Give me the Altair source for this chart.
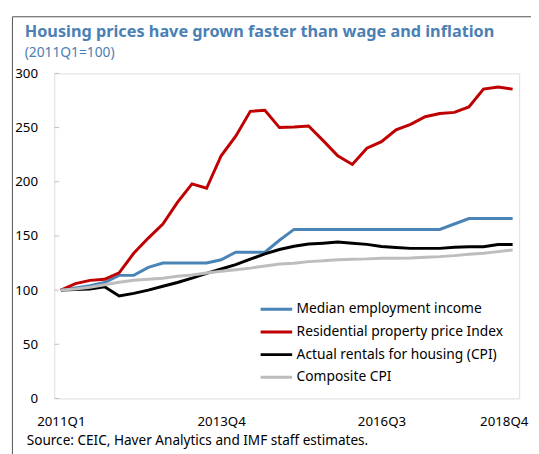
import json
import altair as alt
import pandas as pd

quarters = [
    "2011Q1", "2011Q2", "2011Q3", "2011Q4", "2012Q1", "2012Q2", "2012Q3", "2012Q4",
    "2013Q1", "2013Q2", "2013Q3", "2013Q4", "2014Q1", "2014Q2", "2014Q3", "2014Q4",
    "2015Q1", "2015Q2", "2015Q3", "2015Q4", "2016Q1", "2016Q2", "2016Q3", "2016Q4",
    "2017Q1", "2017Q2", "2017Q3", "2017Q4", "2018Q1", "2018Q2", "2018Q3", "2018Q4",
]

series_names = [
    "Median employment income",
    "Residential property price Index",
    "Actual rentals for housing (CPI)",
    "Composite CPI",
]

income = [100, 102, 104, 107, 113.6, 113.6, 121, 125, 125, 125, 125, 128, 135, 135, 135, 146,
          156, 156, 156, 156, 156, 156, 156, 156, 156, 156, 156, 161, 166, 166, 166, 166]
property_price = [100, 106, 109, 110, 116, 134, 148, 161, 181, 198, 194, 224, 242, 265, 266, 250,
                  250.5, 251.5, 238, 224, 216, 231, 237, 248, 253, 260, 263, 264, 269, 285.5, 287.5, 285.5]
rentals = [100, 100.5, 101, 103, 94.5, 97, 100, 103.5, 107, 111, 115.5, 119.5, 123.5, 128.5, 133.5, 137.5,
           140.5, 142.5, 143.3, 144.3, 143.3, 142.2, 140.3, 139.3, 138.5, 138.5, 138.5, 139.5, 140, 140, 142, 142]
cpi = [100, 101, 102.7, 104.9, 107.3, 109, 110, 111, 112.7, 114, 115.8, 117.4, 118.8, 120.3, 122.3, 124,
       124.7, 126.3, 127, 128, 128.5, 128.8, 129.4, 129.4, 129.6, 130.3, 130.9, 131.8, 133, 134, 135.5, 137]

series_colors = ["#4a84b6", "#c00000", "#000000", "#bdbdbd"]
x_tick_labels = ["2011Q1", "2013Q4", "2016Q3", "2018Q4"]
y_ticks = [0, 50, 100, 150, 200, 250, 300]

title_text = "Housing prices have grown faster than wage and inflation"
subtitle_text = "(2011Q1=100)"
source_text = "Source: CEIC, Haver Analytics and IMF staff estimates."

FONT = "Noto Sans"
TITLE_BLUE = "#4a80b4"

rows = []
for name, vals in zip(series_names, [income, property_price, rentals, cpi]):
    for i, (q, v) in enumerate(zip(quarters, vals)):
        rows.append({"quarter": q, "qi": i, "series": name, "value": v})
df = pd.DataFrame(rows)
tick_df = pd.DataFrame({"tick": y_ticks})
frame_df = pd.DataFrame({"k": [0]})

tick_positions = [quarters.index(q) for q in x_tick_labels]
label_expr = json.dumps(quarters) + "[datum.value]"

y_scale = alt.Scale(domain=[0, 300], nice=False, zero=True)
x_scale = alt.Scale(domain=[-0.45, len(quarters) - 1 + 0.45], nice=False, zero=False)

lines = alt.Chart(df).mark_line(strokeWidth=3, strokeJoin="miter").encode(
    x=alt.X(
        "qi:Q",
        scale=x_scale,
        axis=alt.Axis(
            values=tick_positions,
            labelExpr=label_expr,
            labelAngle=0,
            ticks=False,
            domain=False,
            grid=False,
            labelFlush=False,
            labelBaseline="alphabetic",
            labelPadding=27,
            labelFont=FONT,
            labelFontSize=13.5,
            labelColor="#000000",
            labelOffset={"condition": {"test": "datum.value == 31", "value": -9}, "value": 0},
            title=source_text,
            titleFont=FONT,
            titleFontSize=13.8,
            titleFontWeight="normal",
            titleColor="#000000",
            titleAnchor="start",
            titleAlign="left",
            titleBaseline="alphabetic",
            titleX=-28.5,
            titleY=46.5,
        ),
    ),
    y=alt.Y(
        "value:Q",
        scale=y_scale,
        axis=alt.Axis(
            values=y_ticks,
            ticks=False,
            domain=False,
            grid=False,
            labelFlush=False,
            labelPadding=17,
            labelFont=FONT,
            labelFontSize=13.5,
            labelColor="#000000",
            title=None,
        ),
    ),
    color=alt.Color(
        "series:N",
        sort=series_names,
        scale=alt.Scale(domain=series_names, range=series_colors),
        legend=alt.Legend(
            orient="none",
            legendX=208,
            legendY=230,
            title=None,
            symbolType="M-1,0H3",
            symbolSize=256,
            symbolStrokeWidth=3,
            labelOffset=19,
            labelFont=FONT,
            labelFontSize=14,
            labelColor="#000000",
            labelLimit=400,
            rowPadding=6,
            padding=0,
        ),
    ),
)

ticks = alt.Chart(tick_df).mark_rule(color="#bfbfbf", strokeWidth=1).encode(
    y=alt.Y("tick:Q", scale=y_scale),
    x=alt.value(0),
    x2=alt.value(5),
)

frame = alt.Chart(frame_df).mark_rect(filled=False, stroke="#505050", strokeWidth=1).encode(
    x=alt.value(-42.5),
    y=alt.value(-57.5),
    x2=alt.value(600),
    y2=alt.value(500),
)

chart = alt.layer(frame, ticks, lines).properties(
    width=472,
    height=330,
    autosize=alt.AutoSizeParams(type="none"),
    padding={"left": 47, "top": 63, "right": 12, "bottom": 53},
    title=alt.Title(
        title_text,
        subtitle=subtitle_text,
        anchor="start",
        frame="group",
        dx=-30,
        dy=58,
        offset=14,
        font=FONT,
        fontSize=16.5,
        fontWeight="bold",
        color=TITLE_BLUE,
        subtitleFont=FONT,
        subtitleFontSize=14,
        subtitleColor=TITLE_BLUE,
        subtitlePadding=5,
    ),
).configure_view(
    stroke="#bfbfbf", strokeWidth=1
).configure(background="white")

chart.save("out.html", embed_options={"renderer": "svg", "actions": False})
